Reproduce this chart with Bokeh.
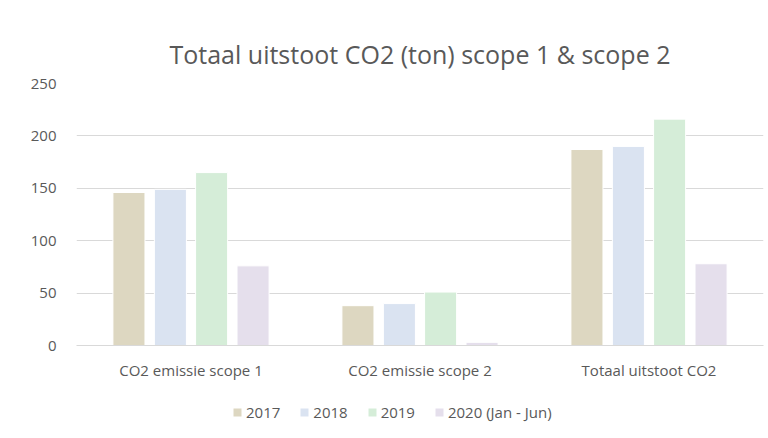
from bokeh.plotting import figure
from bokeh.models import ColumnDataSource, FactorRange, Legend, LegendItem
from bokeh.layouts import column
from bokeh.transform import dodge
from bokeh.embed import file_html
from bokeh.resources import INLINE

categories = ["CO2 emissie scope 1", "CO2 emissie scope 2", "Totaal uitstoot CO2"]
series_names = ["2017", "2018", "2019", "2020 (Jan - Jun)"]
v2017 = [146, 38, 187]
v2018 = [149, 40, 190]
v2019 = [165, 51, 216]
v2020 = [76, 3, 78]
y_ticks = [0, 50, 100, 150, 200, 250]

colors = ["#DDD7C1", "#DAE3F1", "#D5EDD8", "#E5DFEC"]
offsets = [-0.271, -0.09, 0.09, 0.271]

source = ColumnDataSource(dict(cat=categories, s0=v2017, s1=v2018, s2=v2019, s3=v2020))

TXT = "#595959"
FONT = "Open Sans"

p = figure(x_range=FactorRange(*categories, range_padding=0), y_range=(0, 250),
           width=768, height=395, output_backend="svg", toolbar_location=None,
           min_border_left=76, min_border_right=5, min_border_top=83, min_border_bottom=50)

for i, name in enumerate(series_names):
    p.vbar(x=dodge("cat", offsets[i], range=p.x_range), top="s%d" % i, width=0.14,
           source=source, fill_color=colors[i], line_color="#FFFFFF", line_width=1)

p.title.text = "Totaal uitstoot CO2 (ton) scope 1 & scope 2"
p.title.align = "center"
p.title.text_font = FONT
p.title.text_font_size = "25px"
p.title.text_font_style = "normal"
p.title.text_color = TXT
p.title.standoff = 25

p.outline_line_color = None
p.xgrid.grid_line_color = None
p.ygrid.grid_line_color = "#D9D9D9"
p.ygrid.grid_line_width = 1
p.yaxis.ticker = y_ticks

p.yaxis.axis_line_color = None
p.yaxis.major_tick_line_color = None
p.yaxis.minor_tick_line_color = None
p.yaxis.major_label_text_font = FONT
p.yaxis.major_label_text_font_size = "15px"
p.yaxis.major_label_text_color = TXT
p.yaxis.major_label_standoff = 14

p.xaxis.axis_line_color = "#D9D9D9"
p.xaxis.major_tick_line_color = None
p.xaxis.minor_tick_line_color = None
p.xaxis.major_label_text_font = FONT
p.xaxis.major_label_text_font_size = "15px"
p.xaxis.major_label_text_color = TXT
p.xaxis.major_label_standoff = 8

# legend strip
lg = figure(width=768, height=34, output_backend="svg", toolbar_location=None,
            x_range=(0, 1), y_range=(0, 1), min_border=0)
lg.axis.visible = False
lg.grid.visible = False
lg.outline_line_color = None
hidden = ColumnDataSource(dict(x=[5], top=[0]))
items = []
for i, name in enumerate(series_names):
    r = lg.vbar(x="x", top="top", width=0.1, source=hidden, fill_color=colors[i], line_color=None)
    items.append(LegendItem(label=name, renderers=[r]))
legend = Legend(items=items, orientation="horizontal", location=(156, 7),
                label_text_font=FONT, label_text_font_size="15px", label_text_color=TXT,
                glyph_width=10, glyph_height=10, spacing=19, label_standoff=4,
                border_line_color=None, background_fill_alpha=0, padding=0, margin=0)
lg.add_layout(legend)

layout = column(p, lg, spacing=0)
open("out.html", "w").write(file_html(layout, INLINE))
